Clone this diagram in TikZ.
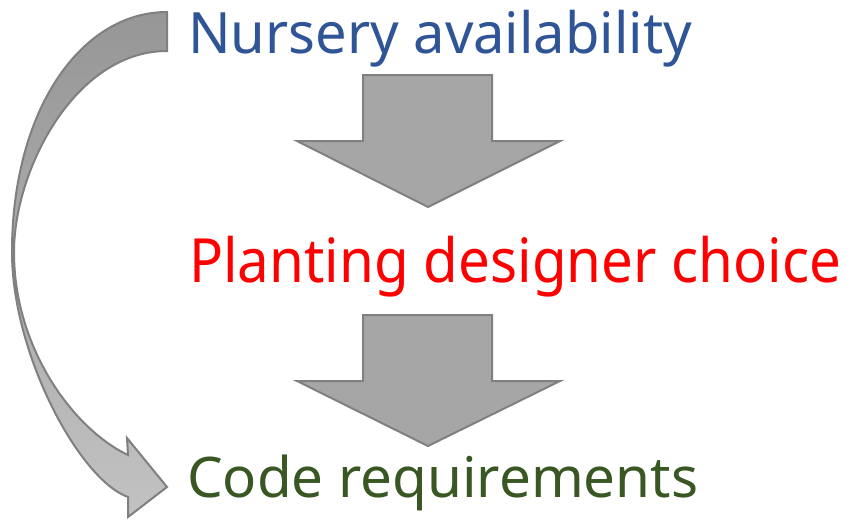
\documentclass[tikz,border=0pt]{standalone}
\usepackage{fontspec}
\setmainfont{Noto Sans}
\usepackage{graphicx}
\definecolor{nblue}{RGB}{47,85,151}
\definecolor{pred}{RGB}{255,0,0}
\definecolor{cgreen}{RGB}{56,87,35}
\definecolor{arrowfill}{RGB}{166,166,166}
\definecolor{arrowline}{RGB}{128,128,128}
\definecolor{curvetop}{RGB}{150,150,150}
\definecolor{curvebot}{RGB}{194,194,194}
\newlength{\fitlen}
\newcommand{\fitto}[2]{\settowidth{\fitlen}{#2}\pgfmathsetmacro{\fitsx}{#1/\fitlen}\scalebox{\fitsx}[1]{#2}}
\begin{document}
\begin{tikzpicture}[x=1pt,y=-1pt]
\tikzset{
  blockarrow/.style={fill=arrowfill, draw=arrowline, line width=2pt, line join=miter},
  curvearrow/.style={top color=curvetop, bottom color=curvebot, draw=arrowline, line width=2pt},
  lbl/.style={anchor=base west, inner sep=0pt}
}
\useasboundingbox (0,0) rectangle (851,520);
\fill[white] (0,0) rectangle (851,520);

\node[lbl, text=nblue, font=\fontsize{57}{60}\selectfont] (nursery) at (188,53) {\fitto{504}{Nursery availability}};
\node[lbl, text=pred, font=\fontsize{61}{64}\selectfont] (planting) at (189,282) {\fitto{652}{Planting designer choice}};
\node[lbl, text=cgreen, font=\fontsize{56}{60}\selectfont] (code) at (187,497) {\fitto{511}{Code requirements}};

% straight block arrows
\draw[blockarrow] (363,75) -- (492,75) -- (492,141) -- (560,141) -- (428,207) -- (297,141) -- (363,141) -- cycle;
\draw[blockarrow] (363,315) -- (492,315) -- (492,381) -- (560,381) -- (428,446) -- (297,381) -- (363,381) -- cycle;

% curved arrow
\shade[curvearrow] (167,12) .. controls (81,12) and (12,110) .. (12,252)
  .. controls (12,355) and (80,480) .. (128,497)
  -- (128,517) -- (167,487) -- (127,438) -- (128,455)
  .. controls (75,430) and (14,350) .. (14,252)
  .. controls (14,170) and (75,51) .. (167,51) -- cycle;
\end{tikzpicture}
\end{document}
